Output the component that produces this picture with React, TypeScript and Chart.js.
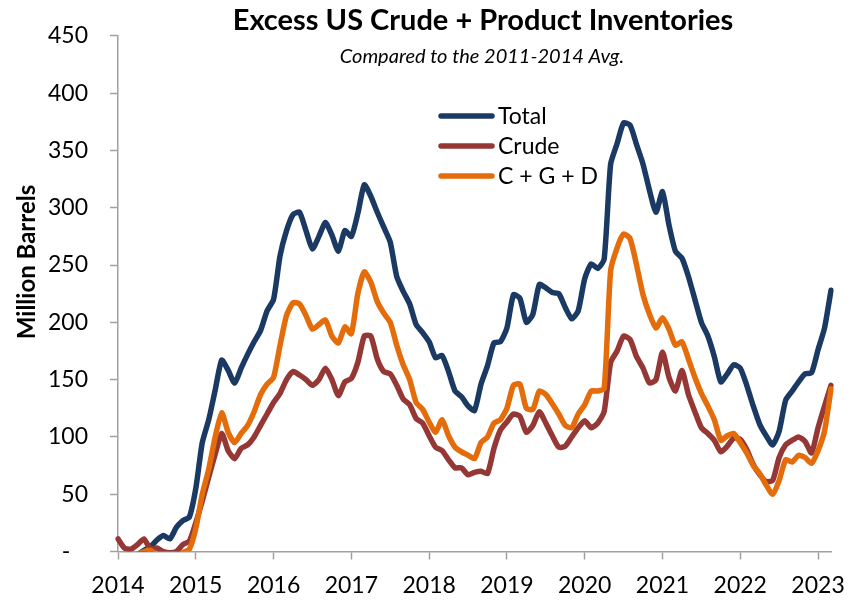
import React, { useEffect, useRef } from 'react';
import { Chart, registerables } from 'chart.js';

Chart.register(...registerables);

const W = 857;
const H = 601;

const TITLE = 'Excess US Crude + Product Inventories';
const SUBTITLE = 'Compared to the 2011-2014 Avg.';
const Y_TITLE = 'Million Barrels';
const SERIES_NAMES = ['Total', 'Crude', 'C + G + D'];
const COLORS = ['#1B3A63', '#953735', '#E46C0A'];
const AXIS = '#A0A0A0';

const YEARS = [2014, 2015, 2016, 2017, 2018, 2019, 2020, 2021, 2022, 2023];
const MONTHS = ['01', '02', '03', '04', '05', '06', '07', '08', '09', '10', '11', '12'];
// monthly categories, Jan 2014 .. Mar 2023
const labels: string[] = [];
for (const y of YEARS) {
  for (const m of MONTHS) {
    if (y === 2023 && Number(m) > 3) break;
    labels.push(`${y}-${m}`);
  }
}

const total = [
  -15, -12, -8, -3, 1, 4, 10, 14, 11, 21, 27, 30,
  55, 95, 115, 141, 167, 158, 147, 160, 172, 183, 193, 210,
  220, 258, 280, 294, 296, 280, 264, 275, 287, 276, 262, 280,
  275, 295, 320, 310, 296, 283, 270, 240, 227, 216, 198, 191,
  183, 169, 171, 157, 140, 135, 127, 123, 146, 162, 182, 183,
  195, 224, 221, 200, 207, 233, 230, 226, 225, 213, 203, 210,
  238, 251, 247, 255, 338, 356, 374, 372, 355, 338, 315, 296,
  314, 285, 262, 256, 240, 220, 200, 188, 170, 148, 155, 163,
  160, 145, 127, 111, 101, 93, 105, 132, 140, 148, 155, 156,
  176, 195, 228,
];

const crude = [
  11, 3, 2, 6, 11, 2, 3, 0, -1, 0, 6, 9,
  25, 44, 65, 85, 103, 88, 81, 90, 93, 100, 110, 120,
  130, 138, 150, 157, 154, 150, 145, 150, 160, 150, 136, 148,
  151, 165, 188, 188, 168, 157, 155, 145, 133, 128, 116, 112,
  101, 91, 88, 80, 73, 73, 67, 69, 70, 68, 90, 106,
  113, 120, 118, 104, 110, 122, 112, 101, 91, 92, 100, 108,
  114, 108, 112, 122, 165, 175, 188, 185, 170, 160, 147, 150,
  174, 152, 140, 158, 137, 122, 108, 103, 97, 87, 92, 99,
  98, 89, 76, 67, 61, 62, 82, 93, 97, 100, 96, 86,
  108, 127, 145,
];

const cgd = [
  -10, -12, -8, -3, 0, 1, -3, -6, -6, -4, -1, 2,
  20, 50, 72, 100, 121, 104, 95, 103, 110, 122, 137, 146,
  152, 180, 206, 217, 216, 206, 194, 198, 202, 188, 182, 196,
  190, 225, 244, 235, 218, 208, 200, 180, 163, 150, 130, 124,
  113, 104, 115, 101, 91, 87, 84, 81, 95, 100, 112, 115,
  125, 145, 146, 125, 124, 140, 137, 129, 120, 110, 108, 120,
  128, 140, 140, 142, 245, 265, 277, 273, 250, 224, 207, 195,
  204, 194, 180, 183, 168, 152, 138, 127, 115, 97, 101, 103,
  95, 86, 75, 68, 58, 50, 62, 80, 78, 84, 82, 77,
  88, 105, 142,
];

const overlayPlugin = {
  id: 'overlay',
  afterDraw(chart: any) {
    const ctx: CanvasRenderingContext2D = chart.ctx;
    ctx.save();
    ctx.fillStyle = '#000';
    ctx.textBaseline = 'alphabetic';
    ctx.textAlign = 'center';
    ctx.font = 'bold 29px Lato';
    ctx.fillText(TITLE, 483, 30);
    ctx.font = 'italic 20px Lato';
    ctx.fillText(SUBTITLE, 482, 63);

    // y-axis title
    ctx.save();
    ctx.translate(35, 262);
    ctx.rotate(-Math.PI / 2);
    ctx.font = 'bold 24px Lato';
    ctx.fillText(Y_TITLE, 0, 0);
    ctx.restore();

    // legend
    const rows = [116, 146, 176];
    ctx.textAlign = 'left';
    ctx.font = '23px Lato';
    SERIES_NAMES.forEach((name, i) => {
      ctx.strokeStyle = COLORS[i];
      ctx.lineWidth = 5.5;
      ctx.lineCap = 'round';
      ctx.beginPath();
      ctx.moveTo(441, rows[i]);
      ctx.lineTo(492, rows[i]);
      ctx.stroke();
      ctx.fillStyle = '#000';
      ctx.fillText(name, 498, rows[i] + 8);
    });
    ctx.restore();
  },
};

export default function App() {
  const ref = useRef<HTMLCanvasElement>(null);

  useEffect(() => {
    Chart.defaults.font.family = 'Lato';
    const mk = (label: string, data: number[], color: string, order: number) => ({
      label,
      data,
      borderColor: color,
      backgroundColor: color,
      borderWidth: 5.5,
      pointRadius: 0,
      pointHoverRadius: 0,
      tension: 0.2,
      fill: false,
      order,
      borderCapStyle: 'round' as const,
      borderJoinStyle: 'round' as const,
    });
    const chart = new Chart(ref.current!, {
      type: 'line',
      data: {
        labels,
        datasets: [
          mk(SERIES_NAMES[0], total, COLORS[0], 2),
          mk(SERIES_NAMES[1], crude, COLORS[1], 1),
          mk(SERIES_NAMES[2], cgd, COLORS[2], 0),
        ],
      },
      options: {
        responsive: false,
        animation: false,
        devicePixelRatio: 1,
        layout: { padding: { top: 26, right: 15, left: 0, bottom: 0 } },
        plugins: {
          legend: { display: false },
          tooltip: { enabled: false },
          title: { display: false },
        },
        scales: {
          x: {
            type: 'category',
            offset: false,
            grid: {
              drawOnChartArea: false,
              drawTicks: true,
              tickLength: 8,
              tickColor: AXIS,
              tickWidth: 1.5,
            },
            border: { display: true, color: AXIS, width: 1.5 },
            ticks: {
              autoSkip: false,
              maxRotation: 0,
              minRotation: 0,
              color: '#000',
              font: { size: 23, family: 'Lato' },
              padding: 12,
              callback: (_v: any, idx: number) =>
                labels[idx].endsWith('-01') ? labels[idx].slice(0, 4) : null,
            },
            afterFit: (s: any) => {
              s.height = 49.5;
            },
          },
          y: {
            min: 0,
            max: 450,
            grid: {
              drawOnChartArea: false,
              drawTicks: true,
              tickLength: 8,
              tickColor: AXIS,
              tickWidth: 1.5,
            },
            border: { display: true, color: AXIS, width: 1.5 },
            ticks: {
              stepSize: 50,
              color: '#000',
              font: { size: 23, family: 'Lato' },
              padding: 22,
              callback: (v: any) => (Number(v) === 0 ? '-   ' : String(v)),
            },
            afterFit: (s: any) => {
              s.width = 118;
            },
          },
        },
      },
      plugins: [overlayPlugin],
    });
    return () => chart.destroy();
  }, []);

  return (
    <div style={{ position: 'absolute', left: 0, top: 0, width: W, height: H, background: '#fff' }}>
      <canvas ref={ref} width={W} height={H} style={{ display: 'block', width: W, height: H }} />
    </div>
  );
}
